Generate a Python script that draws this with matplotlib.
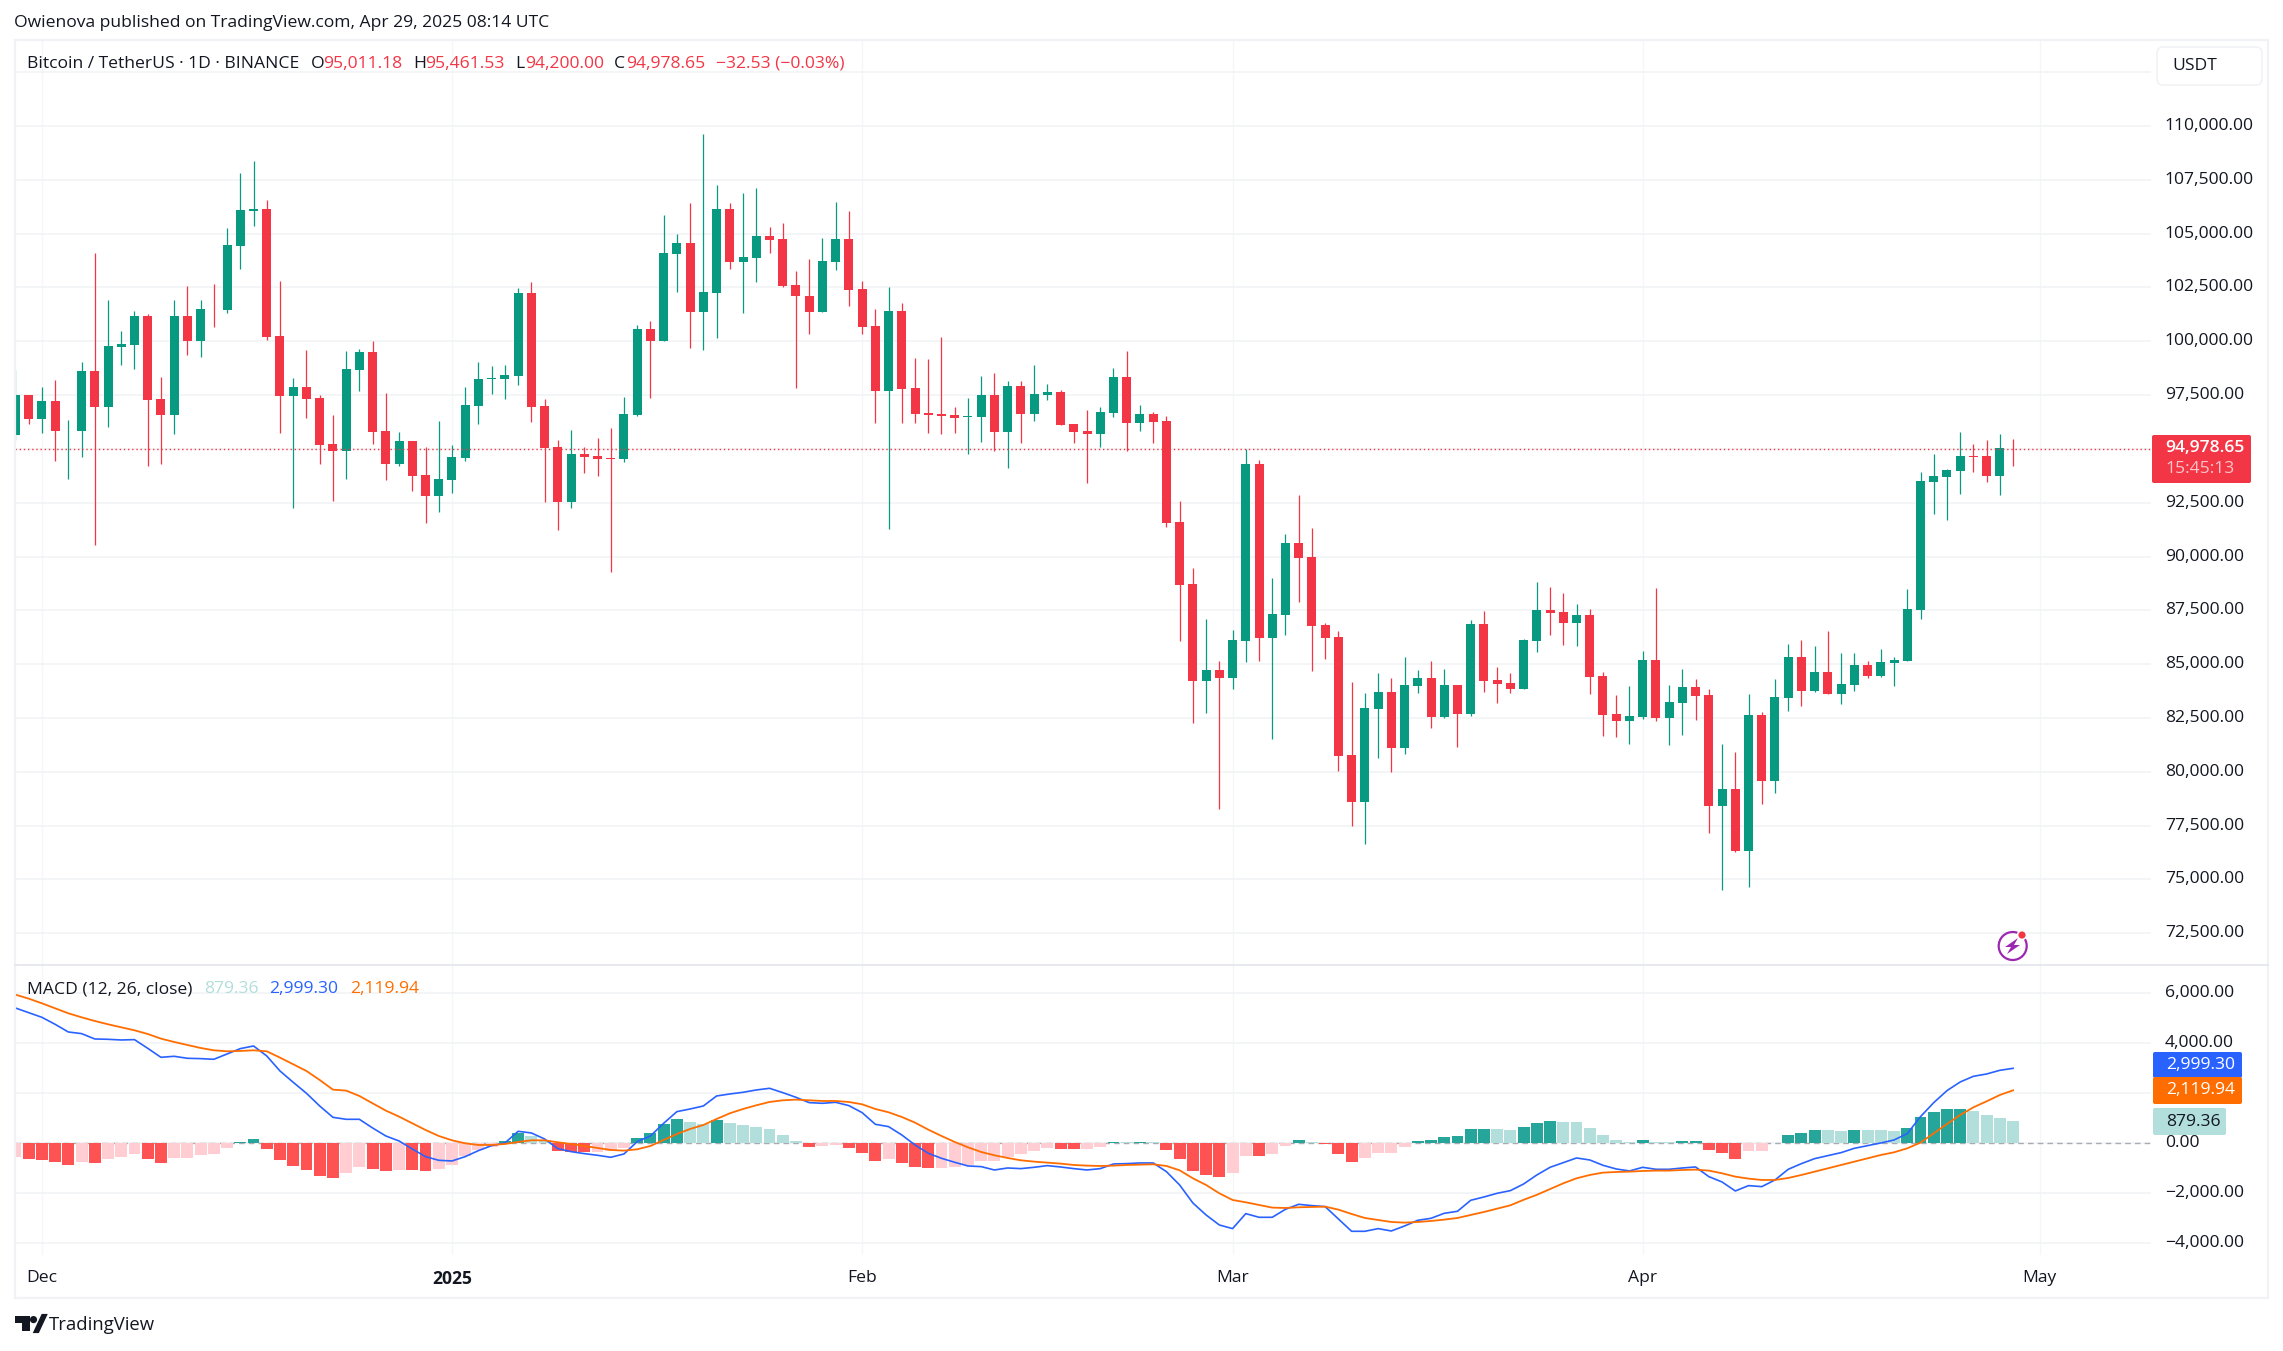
import numpy as np
import matplotlib
matplotlib.use("Agg")
import matplotlib.pyplot as plt
from matplotlib.patches import Rectangle, FancyBboxPatch, Circle, Polygon
from matplotlib.transforms import ScaledTranslation

W, H = 2283, 1351

# daily candles, 29 Nov 2024 -> 29 Apr 2025
opens = [95629,97485,96371,97207,95814,95814,98599,96928,99713,99806,
    101152,97299,96557,101152,99991,101461,101430,104446,106071,106164,
    100223,97439,97856,97346,95211,94886,98645,99481,95814,94283,
    95351,93772,92797,93541,94562,96974,98228,98228,98367,102265,
    96974,95072,92519,94747,94654,94562,94515,96557,100548,99991,
    104075,104585,101337,102265,106164,103704,103890,104911,104771,102637,
    102126,101337,103704,104771,102451,100687,97671,101384,97810,96650,
    96603,96557,96464,96464,97485,95768,97903,96603,97485,97624,
    96139,95814,95675,96650,98320,96185,96603,96278,91591,88714,
    84212,84722,84351,86068,94283,86207,87275,90616,89966,86811,
    86254,80777,78596,82913,83701,81102,83980,84351,82541,84026,
    82680,86857,84258,84119,83841,86068,87506,87414,86904,87275,
    84444,82680,82356,82541,85186,82495,83190,83934,83562,78411,
    79200,76323,82634,79571,83423,85326,83747,84629,83609,84026,
    84954,84444,85048,85140,87506,93448,93679,93958,94654,94654,
    93726,95011.18]
highs = [98645,97520,97856,98181,96325,99017,104122,101940,100455,101384,
    101245,98320,101940,102590,101940,102683,105282,107835,108391,106581,
    102822,98274,99574,97485,96557,99527,99620,99991,97578,95768,
    95351,95072,96278,95165,97856,99017,98831,98877,102497,102776,
    97299,95397,95861,95072,95489,95954,97392,100734,100919,105885,
    105003,106442,109645,107278,106442,106906,107138,105329,105514,103286,
    103843,104818,106489,106071,102822,101476,102544,101755,99202,99156,
    100177,96928,97346,98367,98506,98135,98135,98877,97996,97717,
    96139,96789,96928,98738,99527,97021,96696,96511,92566,89456,
    87089,85140,86579,94979,94469,88992,91034,92844,91313,86904,
    86532,84166,83655,84583,84351,85326,84722,85140,84769,84026,
    87043,87460,84862,84583,86161,88807,88575,88297,87786,87553,
    84629,83562,83980,85604,88528,84026,84769,84305,83841,81287,
    80916,83609,82773,84305,85928,86115,85836,86532,85511,85511,
    85140,85697,85326,88482,93912,94747,94051,95768,95211,95397,
    95675,95461.53]
lows = [95397,96139,95721,94422,93587,94608,90524,95999,98877,98692,
    94190,94283,95675,99341,99249,100641,101291,103379,105375,100037,
    95721,92241,96417,94283,92566,93587,97671,95211,93541,94190,
    93029,91545,92056,92936,94422,96139,97532,97299,97949,96232,
    92519,91220,92241,93865,93726,89270,94376,96510,97346,99991,
    102312,99667,99574,100130,103379,101291,102776,104122,102544,97810,
    100316,101337,103333,101616,100316,96185,91266,96185,96185,95721,
    95675,95721,94747,95304,94886,94097,95258,96278,97253,96093,
    95258,93401,95072,96464,94886,95814,95258,91359,86068,82263,
    82727,78271,83841,85094,85140,81520,86347,87878,84676,85233,
    80035,77482,76647,80638,79989,80824,83655,82030,82495,81149,
    82587,83701,83190,83655,83841,85557,86347,85883,85836,83609,
    81659,81613,81287,82448,82356,81242,81706,82402,77158,74512,
    76276,74652,78503,79014,82820,83051,83701,83609,83144,83747,
    84351,84397,83980,85140,87089,91962,91684,92890,93912,93449,
    92844,94200.00]
closes = [97485,96371,97207,95814,95845,98599,96928,99759,99852,101152,
    97253,96557,101152,99991,101476,101430,104493,106117,106164,100177,
    97439,97856,97299,95165,94886,98692,99481,95768,94283,95351,
    93726,92797,93587,94608,97021,98228,98274,98413,102265,96928,
    95026,92519,94747,94608,94515,94515,96603,100548,99991,104122,
    104585,101337,102312,106164,103704,103936,104911,104725,102590,102080,
    101337,103750,104771,102404,100641,97671,101384,97764,96603,96557,
    96511,96417,96511,97485,95768,97903,96603,97532,97624,96093,
    95768,95675,96696,98320,96185,96603,96232,91545,88668,84212,
    84722,84351,86115,94283,86207,87321,90616,89920,86764,86207,
    80731,78596,82959,83701,81102,84026,84351,82541,84026,82680,
    86857,84212,84073,83841,86115,87506,87367,86904,87275,84397,
    82634,82356,82587,85186,82495,83237,83934,83516,78411,79200,
    76323,82634,79571,83469,85326,83747,84629,83609,84073,84954,
    84444,85094,85186,87553,93494,93726,94004,94654,94608,93726,
    95026,94978.65]

macd_line = [5413,5227,5040,4760,4453,4387,4173,4160,4133,4147,
    3800,3440,3480,3400,3387,3360,3573,3787,3893,3493,
    2893,2440,2000,1493,1040,960,960,613,293,93,
    -227,-533,-680,-707,-533,-293,-93,13,480,413,
    173,-213,-333,-413,-480,-560,-427,67,293,800,
    1267,1373,1493,1893,1973,2040,2133,2200,2027,1840,
    1627,1600,1640,1507,1227,760,667,333,-67,-400,
    -600,-760,-907,-933,-1067,-987,-1013,-960,-893,-947,
    -1013,-1067,-1013,-827,-813,-787,-787,-1133,-1667,-2387,
    -2867,-3267,-3413,-2813,-2960,-2960,-2640,-2440,-2493,-2533,
    -3027,-3520,-3520,-3413,-3507,-3307,-3080,-3000,-2800,-2720,
    -2280,-2147,-2000,-1893,-1627,-1267,-960,-773,-587,-667,
    -880,-1027,-1107,-960,-1040,-1040,-987,-947,-1333,-1547,
    -1907,-1693,-1733,-1467,-1040,-813,-613,-493,-373,-200,
    -93,13,133,387,1067,1627,2107,2453,2680,2773,
    2920,2999.30]
signal_line = [5947,5787,5600,5400,5200,5040,4893,4760,4640,4520,
    4373,4187,4053,3933,3813,3720,3680,3693,3720,3680,
    3427,3160,2893,2533,2147,2107,1893,1600,1307,1067,
    800,533,293,120,0,-67,-67,-27,53,120,
    120,40,-27,-107,-187,-267,-293,-240,-107,133,
    373,573,733,973,1200,1373,1520,1653,1720,1747,
    1720,1693,1693,1653,1560,1373,1240,1053,827,547,
    293,53,-160,-347,-480,-587,-680,-733,-773,-813,
    -867,-893,-907,-893,-867,-853,-840,-907,-1080,-1400,
    -1667,-2000,-2267,-2360,-2467,-2573,-2587,-2560,-2547,-2533,
    -2653,-2827,-2987,-3067,-3147,-3173,-3147,-3107,-3053,-2987,
    -2867,-2747,-2613,-2480,-2260,-2060,-1830,-1600,-1400,-1267,
    -1173,-1147,-1133,-1107,-1093,-1093,-1067,-1053,-1093,-1200,
    -1333,-1413,-1467,-1467,-1387,-1267,-1133,-1000,-867,-733,
    -600,-467,-360,-200,27,400,773,1133,1440,1680,
    1933,2119.94]
hist = [-533,-627,-667,-747,-867,-747,-787,-627,-547,-427,
    -627,-787,-587,-580,-467,-427,-187,53,173,-227,
    -667,-907,-1067,-1307,-1387,-1187,-947,-1027,-1107,-1067,
    -1075,-1107,-1027,-867,-507,-267,-133,93,413,293,
    133,-307,-347,-355,-335,-320,-187,213,413,773,
    973,853,773,933,813,733,653,573,333,93,
    -147,-93,-67,-187,-387,-707,-627,-787,-947,-987,
    -980,-947,-867,-707,-700,-533,-427,-307,-187,-227,
    -235,-227,-147,53,45,53,45,-267,-627,-1107,
    -1267,-1347,-1187,-507,-515,-427,-107,133,53,-27,
    -427,-747,-587,-387,-380,-147,93,133,253,293,
    573,580,573,533,653,813,893,853,845,613,
    333,133,53,133,53,45,93,100,-267,-387,
    -627,-307,-300,13,333,413,533,525,493,533,
    525,520,493,613,1053,1253,1373,1380,1293,1133,
    1013,879.36]

price_ticks = np.arange(72500, 112501, 2500)
macd_ticks = [-4000, -2000, 0, 2000, 4000, 6000]
month_idx = [2, 33, 64, 92, 123, 153]
month_labels = ["Dec", "2025", "Feb", "Mar", "Apr", "May"]

UP, DOWN = "#089981", "#F23645"
GRID = "#f3f4f6"
TXT = "#131722"
FONT = "Open Sans"
FS = 12.6

plt.rcParams["font.family"] = [FONT, "DejaVu Sans"]

n = len(opens)
assert all(len(a) == n for a in (highs, lows, closes, macd_line, signal_line, hist))
x = np.arange(n)
o, h, l, c = map(np.array, (opens, highs, lows, closes))
hv = np.array(hist)

fig = plt.figure(figsize=(W / 100, H / 100), dpi=100, facecolor="white")


def pane(left, top, right, bottom):
    return fig.add_axes([left / W, 1 - bottom / H, (right - left) / W, (bottom - top) / H])


ax = pane(15, 41, 2151, 965)
ax2 = pane(15, 965, 2151, 1255)
# one candle is 13.23 px wide on screen
x0, x1 = -0.03, (2151 - 15) / 13.23 - 0.03

# candles
up = c >= o
cols = np.where(up, UP, DOWN)
ax.vlines(x, l, h, colors=cols, linewidth=0.9, zorder=3)
ax.bar(x, np.abs(c - o), bottom=np.minimum(o, c), width=0.68, color=cols, linewidth=0, zorder=4)
ax.axhline(closes[-1], color=DOWN, linewidth=1.0, linestyle=(0, (1, 2)), zorder=5)
ax.set_xlim(x0, x1)
ax.set_ylim(71022, 113950)
ax.set_yticks(price_ticks)
ax.set_yticklabels([f"{t:,.2f}" if t <= 110000 else "" for t in price_ticks])
ax.set_xticks(month_idx)
ax.set_xticklabels([])

# macd pane
prev = np.r_[hv[0] - 1, hv[:-1]]
rising = hv > prev
hcols = np.where(hv >= 0, np.where(rising, "#26a69a", "#b2dfdb"), np.where(rising, "#ffcdd2", "#ff5252"))
ax2.bar(x, hv, width=0.9, color=hcols, linewidth=0, zorder=3)
ax2.axhline(0, color="#a9abb3", linewidth=1.0, linestyle=(0, (4, 3)), zorder=2)
ax2.plot(x, macd_line, color="#2962FF", linewidth=1.2, zorder=4)
ax2.plot(x, signal_line, color="#FF6D00", linewidth=1.3, zorder=5)
ax2.set_xlim(x0, x1)
ax2.set_ylim(-4468, 7132)
ax2.set_yticks(macd_ticks)
ax2.set_yticklabels([f"{t:,.2f}".replace("-", "\u2212") for t in macd_ticks])
ax2.set_xticks(month_idx)
ax2.set_xticklabels(month_labels, fontsize=FS, color=TXT)
ax2.get_xticklabels()[1].set_fontweight("bold")

# tradingview sets its scale labels a touch above the grid line
lift = ScaledTranslation(0, 2 / 100, fig.dpi_scale_trans)
for a in (ax, ax2):
    a.yaxis.tick_right()
    a.yaxis.grid(True, color=GRID, linewidth=1.3, zorder=0)
    a.xaxis.grid(True, color="#f5f6f8", linewidth=1.0, zorder=0)
    a.set_axisbelow(True)
    a.tick_params(axis="both", length=0, colors=TXT, labelsize=FS)
    a.tick_params(axis="y", pad=10)
    a.tick_params(axis="x", pad=11)
    for s in a.spines.values():
        s.set_visible(False)
    for t in a.get_yticklabels():
        t.set_transform(t.get_transform() + lift)

# chrome drawn in screen pixels on top of the panes
over = fig.add_axes([0, 0, 1, 1], zorder=10)
over.set_xlim(0, W)
over.set_ylim(H, 0)
over.axis("off")
over.patch.set_alpha(0)

over.add_patch(Rectangle((14.5, 40), 2253.5, 1258, fill=False, edgecolor="#f0f2f5", linewidth=1.6))
over.plot([15, 2268], [965, 965], color="#e0e3eb", linewidth=1.1)


def label(px, py, s, color=TXT, fs=FS, **kw):
    over.text(px, py, s, color=color, fontsize=fs, va="center", **kw)


label(14, 23, "Owienova published on TradingView.com, Apr 29, 2025 08:14 UTC")
label(27, 64, "Bitcoin / TetherUS \u00b7 1D \u00b7 BINANCE")
for px, s, col in [(311, "O", TXT), (323, "95,011.18", DOWN), (413, "H", TXT), (425, "95,461.53", DOWN),
                   (515, "L", TXT), (525, "94,200.00", DOWN), (614, "C", TXT), (626, "94,978.65", DOWN),
                   (716, "\u221232.53 (\u22120.03%)", DOWN)]:
    label(px, 64, s, col)

label(27, 989, "MACD (12, 26, close)")
label(204, 989, "879.36", "#b2dfdb")
label(269, 989, "2,999.30", "#2962FF")
label(350, 989, "2,119.94", "#FF6D00")


def tag(l_, t, r, b, col):
    over.add_patch(FancyBboxPatch((l_, t), r - l_, b - t, boxstyle="round,pad=0,rounding_size=2",
                                  facecolor=col, edgecolor="none"))


# last price
tag(2152, 435, 2251, 483, DOWN)
label(2165, 448, "94,978.65", "white", fontweight="semibold")
label(2165, 469, "15:45:13", "#fbc5ca")

# macd last values
tag(2153, 1052, 2242, 1078, "#2962FF")
label(2166, 1065, "2,999.30", "white")
tag(2153, 1077, 2242, 1104, "#FF6D00")
label(2166, 1090.5, "2,119.94", "white")
tag(2153, 1108, 2226, 1135, "#b2dfdb")
label(2166, 1121.5, "879.36", TXT)

# currency button
over.add_patch(FancyBboxPatch((2157, 47), 105, 38, boxstyle="round,pad=0,rounding_size=6",
                              facecolor="white", edgecolor="#f0f2f5", linewidth=1.2))
label(2172, 65.5, "USDT")

# lightning icon
PURPLE = "#9c27b0"
over.add_patch(Circle((2012.7, 946), 14, fill=False, edgecolor=PURPLE, linewidth=1.6))
over.add_patch(Polygon([(2018, 938), (2005, 947), (2011, 947), (2007, 954), (2020, 945), (2014, 945)],
                       facecolor=PURPLE, edgecolor="none"))
over.add_patch(Circle((2022, 935), 5.2, facecolor="white", edgecolor="none"))
over.add_patch(Circle((2022, 935), 3.6, facecolor="#f23645", edgecolor="none"))

# TradingView logo
LOGO = "#131722"
over.add_patch(Polygon([(15, 1316), (30, 1316), (30, 1331), (22, 1331), (22, 1323), (15, 1323)],
                       facecolor=LOGO, edgecolor="none"))
over.add_patch(Circle((33.5, 1319.6), 3.6, facecolor=LOGO, edgecolor="none"))
over.add_patch(Polygon([(36, 1331), (43, 1316), (44.5, 1316), (37.5, 1331)], facecolor=LOGO, edgecolor=LOGO, linewidth=3))
label(49, 1325.5, "TradingView", LOGO, fs=13.3)

fig.savefig("out.png", dpi=100, facecolor="white")
